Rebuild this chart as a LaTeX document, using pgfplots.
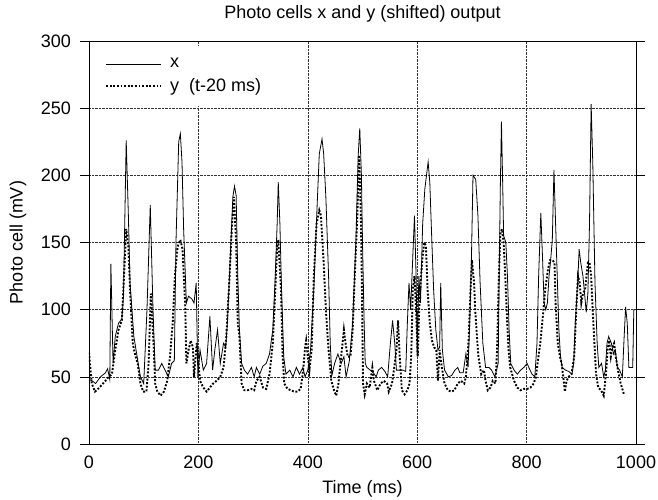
\documentclass[border=0pt]{standalone}
\usepackage{fontspec}
\setmainfont{Liberation Sans}
\usepackage{pgfplots}
\pgfplotsset{compat=1.18}

\begin{document}
\fontsize{18}{21}\selectfont
\begin{tikzpicture}
\path[use as bounding box] (-89pt,-56pt) rectangle (569pt,444pt);
\begin{axis}[
  at={(0,0)}, anchor=south west,
  scale only axis, width=547pt, height=403pt,
  xmin=0, xmax=1000, ymin=0, ymax=300,
  xtick={0,200,...,1000}, ytick={0,50,...,300},
  /pgf/number format/assume math mode=true,
  /pgf/number format/1000 sep={},
  grid=major, grid style={densely dotted, black!80, line width=0.5pt},
  axis line style={line width=0.9pt},
  tick align=outside, major tick length=9pt,
  xtick style={draw=none},
  ytick style={line width=0.6pt, black},
  xticklabel style={yshift=3pt},
  yticklabel style={xshift=-3pt},
  title={Photo cells x and y (shifted) output},
  title style={at={(axis description cs:0.5,1)}, anchor=base, yshift=16pt, inner sep=0pt},
  xlabel={Time (ms)},
  xlabel style={at={(axis description cs:0.5,0)}, anchor=base, yshift=-50pt, inner sep=0pt},
  ylabel={Photo cell (mV)},
  ylabel style={at={(axis description cs:-0.1298,0.5)}, anchor=center, inner sep=0pt},
  legend style={at={(axis description cs:0,1)}, anchor=north west, xshift=4pt, yshift=-5pt,
    draw=none, fill=white, inner xsep=12pt, inner ysep=10pt, row sep=4pt, column sep=6pt},
  legend cell align=left,
  legend image code/.code={\draw[#1] (0pt,0pt) -- (55pt,0pt);},
]
\addplot[black, line width=0.8pt] coordinates {
(0,48) (6,47) (12,45) (21,50) (30,53) (34,56) (38,48) (40,134) (44,60) (48,80)
(54,90) (60,93) (63,110) (68,226) (72,170) (75,120) (82,80) (88,65) (94,50) (100,45)
(106,100) (112,178) (117,100) (121,55) (127,55) (133,60) (139,55) (145,50) (151,60) (156,62)
(159,150) (164,225) (167,231) (170,210) (173,160) (178,105) (182,110) (188,108) (192,105) (196,120)
(199,50) (203,70) (209,55) (215,60) (221,95) (226,55) (230,70) (235,85) (240,60) (246,75)
(250,72) (253,90) (257,127) (263,184) (266,192) (269,185) (272,125) (275,85) (279,60) (284,55)
(290,52) (297,57) (302,50) (306,57) (312,52) (318,58) (324,60) (330,67) (336,85) (340,120)
(344,164) (346,195) (349,164) (352,115) (356,65) (360,52) (367,55) (373,50) (379,57) (385,52)
(391,57) (395,50) (400,55) (405,70) (411,115) (417,177) (421,216) (426,227) (429,216) (433,184)
(438,125) (441,75) (444,51) (449,60) (455,67) (461,60) (466,65) (470,50) (476,62) (482,90)
(488,152) (492,214) (495,235) (498,200) (500,150) (503,90) (505,60) (508,57) (514,55) (520,53)
(525,50) (529,55) (535,57) (541,54) (546,50) (551,75) (555,92) (559,75) (562,55) (568,55)
(574,55) (579,54) (582,90) (585,120) (588,100) (592,140) (595,170) (598,125) (600,65) (603,125)
(606,105) (610,164) (614,190) (617,200) (620,210) (623,195) (626,160) (630,115) (634,85) (638,70)
(641,72) (643,120) (646,70) (650,55) (657,50) (663,51) (669,55) (674,57) (678,53) (684,53)
(689,67) (693,57) (696,90) (699,135) (702,200) (707,197) (711,170) (715,120) (720,75) (725,57)
(731,57) (736,55) (742,50) (748,60) (750,130) (752,192) (754,240) (756,200) (758,155) (762,150)
(765,125) (768,85) (771,60) (777,55) (783,52) (789,55) (795,57) (801,60) (804,57) (810,52)
(815,50) (819,75) (822,125) (826,172) (829,140) (832,105) (835,100) (838,105) (841,125) (844,137)
(847,152) (850,204) (853,164) (856,125) (859,85) (862,65) (865,57) (871,55) (877,54) (883,52)
(886,60) (889,90) (894,125) (896,145) (899,135) (903,125) (906,112) (909,98) (912,112) (915,164)
(918,253) (921,209) (923,164) (925,120) (929,75) (932,57) (937,60) (941,50) (944,55) (947,75)
(950,80) (955,75) (959,67) (962,70) (966,57) (970,55) (975,50) (978,77) (981,102) (984,90)
(987,57) (990,57) (994,57) (996,100) (999,100)
};
\addlegendentry{x}
\addplot[black, line width=1.9pt, dash pattern=on 1.9pt off 1.7pt] coordinates {
(0,68) (5,45) (11,39) (19,42) (30,47) (36,50) (42,52) (48,70) (54,85) (60,92)
(64,125) (68,160) (72,147) (75,115) (80,75) (84,67) (89,60) (94,45) (99,39) (105,39)
(109,60) (113,112) (118,75) (121,45) (125,39) (131,36) (137,39) (143,47) (148,65) (153,90)
(157,125) (162,147) (167,152) (171,145) (176,102) (178,60) (182,70) (186,77) (190,72) (192,50)
(197,75) (203,47) (209,42) (215,39) (221,42) (227,45) (233,47) (240,50) (246,57) (251,80)
(257,125) (261,160) (265,184) (269,150) (272,90) (275,80) (279,45) (284,40) (290,40) (297,41)
(302,40) (306,47) (312,50) (318,42) (324,41) (330,52) (336,75) (340,110) (344,147) (346,152)
(351,115) (354,65) (357,45) (363,41) (369,40) (375,39) (381,39) (387,41) (392,57) (395,72)
(397,77) (400,65) (403,55) (407,70) (411,125) (416,164) (421,174) (424,170) (429,135) (433,100)
(438,70) (443,47) (448,40) (452,36) (456,45) (461,65) (466,85) (469,75) (473,65) (478,65)
(482,85) (486,127) (490,164) (494,215) (497,170) (499,115) (501,45) (504,37) (508,45) (513,42)
(518,57) (521,47) (527,40) (533,45) (539,47) (545,45) (548,39) (554,45) (558,57) (562,70)
(565,92) (568,65) (572,40) (577,37) (582,40) (586,45) (589,65) (592,115) (595,125) (598,100)
(601,65) (604,105) (607,125) (610,140) (613,150) (616,147) (619,115) (623,90) (627,77) (631,72)
(635,70) (638,47) (641,70) (645,57) (650,45) (656,40) (662,39) (668,40) (674,45) (680,47)
(686,45) (689,50) (694,77) (697,110) (700,137) (704,120) (706,100) (710,75) (712,65) (717,52)
(722,55) (725,47) (729,40) (734,42) (738,47) (743,45) (746,70) (749,120) (752,157) (755,160)
(758,150) (761,125) (764,95) (767,70) (770,57) (777,47) (783,42) (789,40) (795,41) (801,41)
(807,42) (813,45) (817,50) (820,60) (825,75) (829,92) (834,115) (839,130) (843,137) (847,137)
(851,135) (853,105) (857,75) (861,65) (864,60) (867,50) (870,39) (873,47) (877,50) (882,52)
(887,65) (891,102) (894,125) (897,120) (900,105) (903,112) (907,115) (912,135) (915,135) (918,125)
(921,98) (924,75) (927,52) (931,42) (936,40) (941,36) (945,52) (948,70) (951,77) (954,65)
(957,72) (960,75) (963,65) (967,55) (972,45) (978,37)
};
\addlegendentry{y\ \ (t-20 ms)}
\end{axis}
\end{tikzpicture}
\end{document}
